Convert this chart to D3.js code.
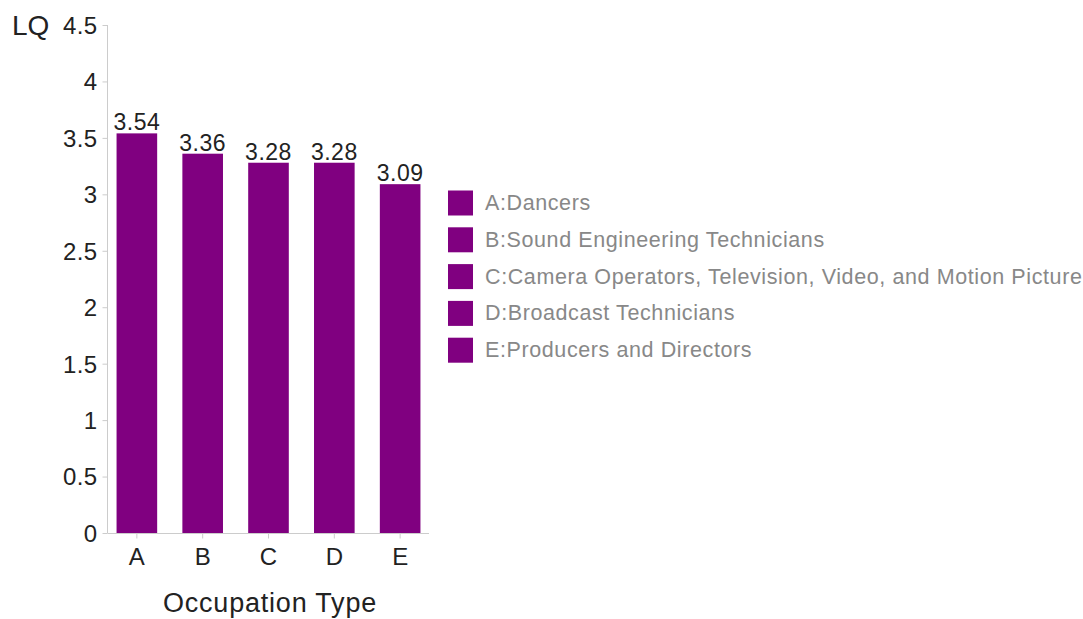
<!DOCTYPE html>
<html>
<head>
<meta charset="utf-8">
<script src="https://cdn.jsdelivr.net/npm/d3@7"></script>
<style>
  html, body { margin: 0; padding: 0; background: #fff; }
  svg { display: block; font-family: "Liberation Sans", Arial, Helvetica, sans-serif; }
</style>
</head>
<body>
<svg id="chart" width="1083" height="619"></svg>
<script>
// Location quotient by occupation
const categories = ["A", "B", "C", "D", "E"];
const occupations = [
  "Dancers",
  "Sound Engineering Technicians",
  "Camera Operators, Television, Video, and Motion Picture",
  "Broadcast Technicians",
  "Producers and Directors"
];
const lqValues = [3.54, 3.36, 3.28, 3.28, 3.09];
const yTicks = [0, 0.5, 1, 1.5, 2, 2.5, 3, 3.5, 4, 4.5];

const barColor = "#800080";
const axisColor = "#cccccc";
const textColor = "#222222";

const svg = d3.select("#chart");

const x = d3.scaleBand()
  .domain(categories)
  .range([108, 429])
  .paddingInner(0.383)
  .paddingOuter(0.13);

const y = d3.scaleLinear()
  .domain([0, 4.5])
  .range([533, 25]);

// Y axis
const yAxis = svg.append("g")
  .attr("transform", "translate(107.5,0)")
  .call(d3.axisLeft(y).tickValues(yTicks).tickSize(5).tickPadding(5)
    .tickFormat(d => d3.format("")(d)));
yAxis.select(".domain").attr("stroke", axisColor).attr("d", `M0,${y(4.5)}V${y(0)}`);
yAxis.selectAll(".tick line").attr("stroke", axisColor);
yAxis.selectAll(".tick text")
  .attr("fill", textColor)
  .attr("font-size", 24)
  .attr("letter-spacing", 0.4)
  .attr("dy", "0.35em");

// X axis
const xAxis = svg.append("g")
  .attr("transform", "translate(0,533.5)")
  .call(d3.axisBottom(x).tickSize(5).tickPadding(9));
xAxis.select(".domain").attr("stroke", axisColor).attr("d", `M107.5,0H429`);
xAxis.selectAll(".tick line").attr("stroke", axisColor);
xAxis.selectAll(".tick text")
  .attr("fill", textColor)
  .attr("font-size", 24)
  .attr("dy", "0.71em");

// Bars
svg.append("g")
  .selectAll("rect")
  .data(lqValues)
  .join("rect")
  .attr("x", (d, i) => x(categories[i]))
  .attr("y", d => y(d))
  .attr("width", x.bandwidth())
  .attr("height", d => y(0) - y(d))
  .attr("fill", barColor);

// Value labels
svg.append("g")
  .selectAll("text")
  .data(lqValues)
  .join("text")
  .attr("x", (d, i) => x(categories[i]) + x.bandwidth() / 2)
  .attr("y", d => y(d) - 3)
  .attr("text-anchor", "middle")
  .attr("font-size", 23)
  .attr("letter-spacing", 0.5)
  .attr("fill", textColor)
  .text(d => d3.format(".2f")(d));

// Axis titles
svg.append("text")
  .attr("x", 12)
  .attr("y", 35)
  .attr("font-size", 28)
  .attr("fill", textColor)
  .text("LQ");

svg.append("text")
  .attr("x", 270)
  .attr("y", 612)
  .attr("text-anchor", "middle")
  .attr("font-size", 27)
  .attr("letter-spacing", 0.8)
  .attr("fill", textColor)
  .text("Occupation Type");

// Legend
const legend = svg.append("g")
  .selectAll("g")
  .data(categories)
  .join("g")
  .attr("transform", (d, i) => `translate(448,${190.5 + i * 36.8})`);

legend.append("rect")
  .attr("width", 25)
  .attr("height", 25)
  .attr("fill", barColor);

legend.append("text")
  .attr("x", 37)
  .attr("y", 19.5)
  .attr("font-size", 21.5)
  .attr("letter-spacing", 0.6)
  .attr("fill", "#888888")
  .text((d, i) => `${d}:${occupations[i]}`);
</script>
</body>
</html>
